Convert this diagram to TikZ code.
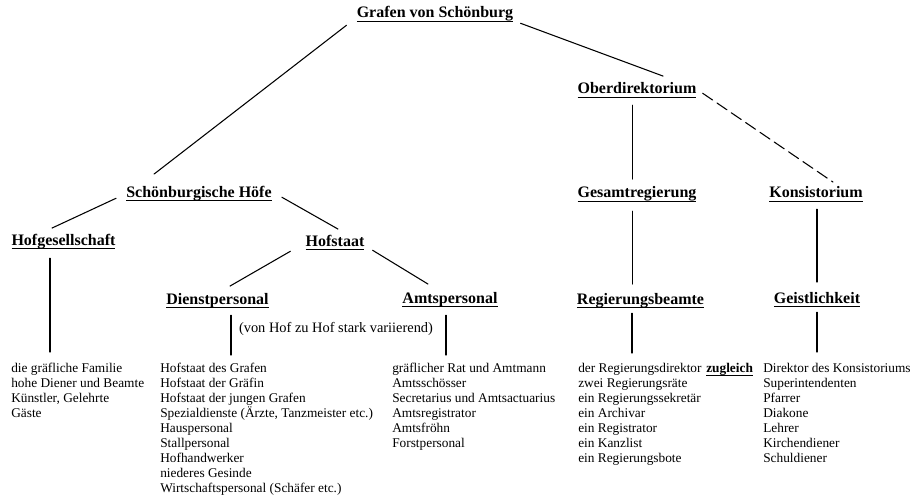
\documentclass[tikz,border=0pt]{standalone}
\usepackage{fontspec}
\setmainfont{Liberation Serif}
\newcommand{\unterstr}[1]{\setbox0=\hbox{#1}\rlap{\rule[-3pt]{\wd0}{1pt}}\box0}

\begin{document}
\begin{tikzpicture}[x=0.75pt,y=-0.75pt,line cap=round,
  kopf/.style={anchor=base,inner sep=0pt,text height=8pt,text depth=3pt,font=\fontsize{12}{14}\selectfont\bfseries},
  liste/.style={anchor=north west,inner sep=0pt,align=left,font=\fontsize{10}{11.25}\selectfont},
  link/.style={line width=0.8pt}]
  \useasboundingbox (0,0) rectangle (910,499);
  % Ebenen der Hierarchie
  \node[kopf] (grafen) at (435,18) {\unterstr{Grafen von Schönburg}};
  \node[kopf] (ober) at (637,94) {\unterstr{Oberdirektorium}};
  \node[kopf] (hoefe) at (199,197) {\unterstr{Schönburgische Höfe}};
  \node[kopf] (gesamt) at (637,198) {\unterstr{Gesamtregierung}};
  \node[kopf] (konsist) at (816,198) {\unterstr{Konsistorium}};
  \node[kopf] (hofges) at (63.5,245) {\unterstr{Hofgesellschaft}};
  \node[kopf] (hofstaat) at (335,246) {\unterstr{Hofstaat}};
  \node[kopf] (dienst) at (217.5,304) {\unterstr{Dienstpersonal}};
  \node[kopf] (amts) at (450,303) {\unterstr{Amtspersonal}};
  \node[kopf] (regbeamte) at (640.5,304) {\unterstr{Regierungsbeamte}};
  \node[kopf] (geistl) at (817,303) {\unterstr{Geistlichkeit}};
  \node[anchor=base,inner sep=0pt,font=\fontsize{10.8}{12}\selectfont] (variierend) at (336,332) {(von Hof zu Hof stark variierend)};
  \node[anchor=base west,inner sep=0pt,font=\fontsize{10}{12}\selectfont\bfseries] (zugleich) at (706,372) {\unterstr{zugleich}};
  % Listen
  \node[liste] (familie) at (11,363) {die gräfliche Familie\\hohe Diener und Beamte\\Künstler, Gelehrte\\Gäste};
  \node[liste] (personal) at (160,363) {Hofstaat des Grafen\\Hofstaat der Gräfin\\Hofstaat der jungen Grafen\\Spezialdienste (Ärzte, Tanzmeister etc.)\\Hauspersonal\\Stallpersonal\\Hofhandwerker\\niederes Gesinde\\Wirtschaftspersonal (Schäfer etc.)};
  \node[liste] (amt) at (392,363) {gräflicher Rat und Amtmann\\Amtsschösser\\Secretarius und Amtsactuarius\\Amtsregistrator\\Amtsfröhn\\Forstpersonal};
  \node[liste] (regierung) at (578,363) {der Regierungsdirektor\\zwei Regierungsräte\\ein Regierungssekretär\\ein Archivar\\ein Registrator\\ein Kanzlist\\ein Regierungsbote};
  \node[liste] (kirche) at (763,363) {Direktor des Konsistoriums\\Superintendenten\\Pfarrer\\Diakone\\Lehrer\\Kirchendiener\\Schuldiener};
  % Verbindungen
  \draw[link] ([shift={(-10,3)}]grafen.south west) -- ([shift={(28,-12)}]hoefe.north west);
  \draw[link] ([shift={(7,1)}]grafen.south east) -- ([shift={(26,-7)}]ober.north);
  \draw[link] ([shift={(-4.5,7)}]ober.south) -- ([shift={(-4.5,-8)}]gesamt.north);
  \draw[link,dash pattern=on 9pt off 4pt] ([shift={(6,-5)}]ober.south east) -- ([shift={(17,-5)}]konsist.north);
  \draw[link] ([shift={(-4.5,9)}]gesamt.south) -- ([shift={(-8,-9)}]regbeamte.north);
  \draw[link] ([shift={(1,7)}]konsist.south) -- ([shift={(0,-10)}]geistl.north);
  \draw[link] ([shift={(-10,-3)}]hoefe.south west) -- ([shift={(-11.5,-6)}]hofges.north);
  \draw[link] ([shift={(10,-4)}]hoefe.south east) -- ([shift={(3,-6)}]hofstaat.north);
  \draw[link] ([shift={(-15,1)}]hofstaat.south west) -- ([shift={(12.5,-7)}]dienst.north);
  \draw[link] ([shift={(8,0)}]hofstaat.south east) -- ([shift={(-22,-8)}]amts.north);
  \foreach \von/\dx/\dy/\zu/\ex/\ey in {hofges/-13.5/9/familie/39/-11, dienst/13.5/7/personal/71/-8,
      amts/-4/8/amt/54/-8, regbeamte/-8.5/5/regierung/54/-10, geistl/0/5/kirche/54/-11} {
    \draw[link] ([shift={(\dx,\dy)}]\von.south) -- ([shift={(\ex,\ey)}]\zu.north west);
  }
\end{tikzpicture}
\end{document}
